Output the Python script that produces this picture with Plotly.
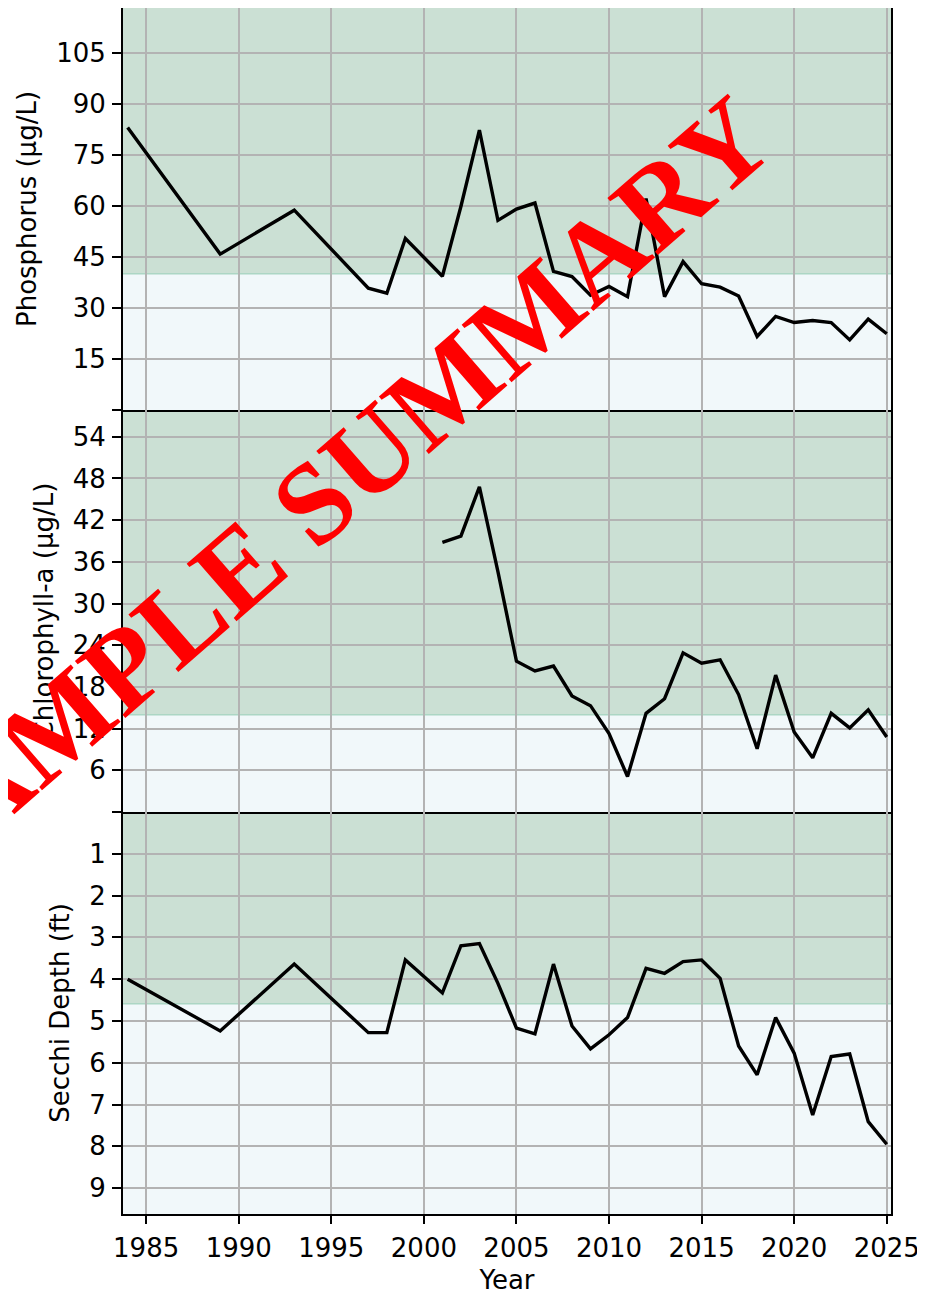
import plotly.graph_objects as go

# ---- data ----
years_tp = [1984, 1989, 1993, 1997, 1998, 1999, 2001, 2002, 2003, 2004, 2005, 2006,
            2007, 2008, 2009, 2010, 2011, 2012, 2013, 2014, 2015, 2016, 2017, 2018,
            2019, 2020, 2021, 2022, 2023, 2024, 2025]
phosphorus = [83.0, 45.8, 58.7, 35.8, 34.3, 50.4, 39.3, 59.8, 82.2, 55.7, 59.0, 60.8,
              40.7, 39.2, 33.7, 36.3, 33.3, 62.1, 33.3, 43.6, 37.1, 36.1, 33.5, 21.6,
              27.5, 25.7, 26.3, 25.7, 20.6, 26.7, 22.4]

years_chl = [2001, 2002, 2003, 2004, 2005, 2006, 2007, 2008, 2009, 2010, 2011, 2012,
             2013, 2014, 2015, 2016, 2017, 2018, 2019, 2020, 2021, 2022, 2023, 2024, 2025]
chlorophyll = [38.8, 39.7, 46.8, 34.6, 21.7, 20.3, 21.0, 16.7, 15.3, 11.3, 5.1, 14.2,
               16.3, 22.9, 21.4, 21.9, 16.9, 9.1, 19.7, 11.5, 7.8, 14.2, 12.1, 14.7, 10.8]

years_sd = years_tp
secchi = [4.0, 5.24, 3.64, 5.28, 5.28, 3.54, 4.33, 3.2, 3.15, 4.1, 5.17, 5.31,
          3.64, 5.12, 5.67, 5.33, 4.92, 3.74, 3.86, 3.58, 3.54, 3.98, 5.6, 6.29,
          4.92, 5.77, 7.25, 5.85, 5.79, 7.41, 7.95]

tp_ticks = [0, 15, 30, 45, 60, 75, 90, 105]
chl_ticks = [0, 6, 12, 18, 24, 30, 36, 42, 48, 54]
sd_ticks = [0, 1, 2, 3, 4, 5, 6, 7, 8, 9]
year_ticks = [1985, 1990, 1995, 2000, 2005, 2010, 2015, 2020, 2025]

tp_threshold = 40
chl_threshold = 14
sd_threshold = 4.59

tp_range = [0, 118.1]
chl_range = [0, 57.85]
sd_range = [9.62, 0]
x_range = [1983.75, 2025.23]

# ---- style ----
FONT = "DejaVu Sans"
FS = 26
GREEN = "rgb(203,224,212)"
LIGHT = "rgb(241,248,250)"
EDGE = "rgb(172,214,196)"
GRID = "#b3b3b3"

fig = go.Figure()
line_style = dict(color="black", width=3.4)
fig.add_trace(go.Scatter(x=years_tp, y=phosphorus, mode="lines", line=line_style,
                         xaxis="x", yaxis="y", showlegend=False))
fig.add_trace(go.Scatter(x=years_chl, y=chlorophyll, mode="lines", line=line_style,
                         xaxis="x2", yaxis="y2", showlegend=False))
fig.add_trace(go.Scatter(x=years_sd, y=secchi, mode="lines", line=line_style,
                         xaxis="x3", yaxis="y3", showlegend=False))

# page has an 8px body margin, so the figure is drawn 8px smaller and offset
H = 1206.0
dom_bot = [0, 1 / 3]
dom_mid = [1 / 3, 2 / 3]
dom_top = [2 / 3, 1]

common_axis = dict(showline=True, linecolor="black", linewidth=1.8,
                   showgrid=True, gridcolor=GRID, gridwidth=1.7, zeroline=False,
                   automargin=False,
                   tickfont=dict(family=FONT, size=FS, color="black"))

def yax(domain, rng, ticks, title, anchor):
    return dict(domain=domain, range=rng, tickmode="array", tickvals=ticks,
                ticktext=["" if t == 0 else str(t) for t in ticks],
                ticks="outside", ticklen=9, tickwidth=1.6, tickcolor="black",
                ticklabelstandoff=1, mirror=True,
                title=dict(text=title, font=dict(family=FONT, size=FS, color="black"), standoff=12),
                anchor=anchor, **common_axis)

def xax(anchor, show, mirror):
    d = dict(range=x_range, tickmode="array", tickvals=year_ticks, anchor=anchor,
             domain=[0, 1], mirror=mirror, **common_axis)
    if show:
        d.update(ticks="outside", ticklen=8, tickwidth=1.6, tickcolor="black",
                 showticklabels=True, ticklabelstandoff=2,
                 title=dict(text="Year", font=dict(family=FONT, size=FS, color="black"), standoff=13))
    else:
        d.update(ticks="", showticklabels=False, matches="x3")
    return d

fig.update_layout(
    width=917, height=1287,
    margin=dict(l=115, r=34, t=0, b=81, autoexpand=False),
    paper_bgcolor="white", plot_bgcolor="white",
    xaxis=xax("y", False, True),
    xaxis2=xax("y2", False, False),
    xaxis3=xax("y3", True, False),
    yaxis=yax(dom_top, tp_range, tp_ticks, "Phosphorus (µg/L)", "x"),
    yaxis2=yax(dom_mid, chl_range, chl_ticks, "Chlorophyll-a (µg/L)", "x2"),
    yaxis3=yax(dom_bot, sd_range, sd_ticks, "Secchi Depth (ft)", "x3"),
)

def bands(xr, yr, thr, lo_val, hi_val, green_high):
    if green_high:
        g = (thr, hi_val); l = (lo_val, thr)
    else:
        g = (lo_val, thr); l = (thr, hi_val)
    fig.add_shape(type="rect", xref=xr + " domain", yref=yr, x0=0, x1=1, y0=g[0], y1=g[1],
                  fillcolor=GREEN, line=dict(width=0), layer="below")
    fig.add_shape(type="rect", xref=xr + " domain", yref=yr, x0=0, x1=1, y0=l[0], y1=l[1],
                  fillcolor=LIGHT, line=dict(width=0), layer="below")
    fig.add_shape(type="line", xref=xr + " domain", yref=yr, x0=0, x1=1, y0=thr, y1=thr,
                  line=dict(color=EDGE, width=1.5), layer="below")

bands("x", "y", tp_threshold, tp_range[0], tp_range[1], True)
bands("x2", "y2", chl_threshold, chl_range[0], chl_range[1], True)
bands("x3", "y3", sd_threshold, sd_range[1], sd_range[0], False)

# watermark
fig.add_annotation(text="<b>SAMPLE SUMMARY</b>", xref="paper", yref="paper",
                   x=(328 - 123) / 768.0, y=(1214 - 490) / H, xanchor="center", yanchor="middle",
                   showarrow=False, textangle=-41,
                   font=dict(family="Liberation Serif", size=116, color="red"))

fig.write_html("out.html")
